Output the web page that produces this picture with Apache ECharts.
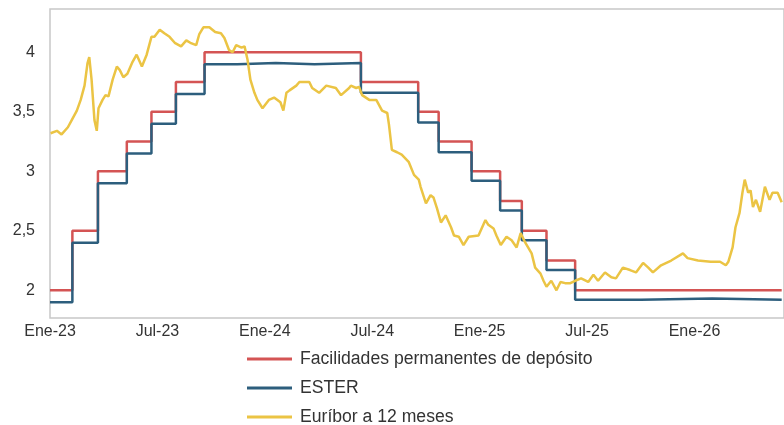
<!DOCTYPE html>
<html>
<head>
<meta charset="utf-8">
<script src="https://cdn.jsdelivr.net/npm/echarts@6/dist/echarts.min.js"></script>
<style>
  html, body { margin: 0; padding: 0; background: #fff; }
  #chart { width: 784px; height: 425px; }
</style>
</head>
<body>
<div id="chart"></div>
<script>
// Series names
const seriesNames = ['Facilidades permanentes de depósito', 'ESTER', 'Euríbor a 12 meses']

// Facilidades de depósito (value holds from each date)
const dfrDates = ['2023-01-01', '2023-02-08', '2023-03-22', '2023-05-10', '2023-06-21', '2023-08-02',
  '2023-09-20', '2024-06-12', '2024-09-18', '2024-10-23', '2024-12-18', '2025-02-05',
  '2025-03-12', '2025-04-23', '2025-06-11', '2026-05-28']
const dfrValues = [2, 2.5, 3, 3.25, 3.5, 3.75, 4, 3.75, 3.5, 3.25, 3, 2.75, 2.5, 2.25, 2, 2]

// ESTER
const esterDates = ['2023-01-01', '2023-02-08', '2023-03-22', '2023-05-10', '2023-06-21', '2023-08-02',
  '2023-09-20', '2023-11-15', '2024-01-20', '2024-03-25', '2024-06-12', '2024-09-18',
  '2024-10-23', '2024-12-18', '2025-02-05', '2025-03-12', '2025-04-23', '2025-06-11',
  '2025-10-01', '2026-02-01', '2026-05-28']
const esterValues = [1.9, 2.4, 2.9, 3.15, 3.4, 3.65, 3.9, 3.91, 3.9, 3.91, 3.66, 3.41,
  3.16, 2.92, 2.67, 2.42, 2.17, 1.92, 1.93, 1.92, 1.92]

// Euríbor a 12 meses
const euriborDates = ['2023-01-02', '2023-01-13', '2023-01-21', '2023-02-01', '2023-02-07', '2023-02-15',
  '2023-02-21', '2023-02-27', '2023-03-04', '2023-03-07', '2023-03-11', '2023-03-16', '2023-03-20',
  '2023-03-23', '2023-03-30', '2023-04-04', '2023-04-09', '2023-04-16', '2023-04-23', '2023-04-28',
  '2023-05-04', '2023-05-11', '2023-05-20', '2023-05-27', '2023-06-05', '2023-06-13', '2023-06-21',
  '2023-06-26', '2023-07-05', '2023-07-13', '2023-07-22', '2023-07-31', '2023-08-11', '2023-08-20',
  '2023-08-27', '2023-09-06', '2023-09-11', '2023-09-18', '2023-09-28', '2023-10-08', '2023-10-18',
  '2023-10-24', '2023-11-01', '2023-11-07', '2023-11-13', '2023-11-22', '2023-11-27', '2023-12-02',
  '2023-12-07', '2023-12-14', '2023-12-19', '2023-12-28', '2024-01-08', '2024-01-17', '2024-01-28',
  '2024-02-02', '2024-02-07', '2024-02-12', '2024-02-23', '2024-02-28', '2024-03-16', '2024-03-21',
  '2024-04-02', '2024-04-14', '2024-04-30', '2024-05-09', '2024-05-23', '2024-05-26', '2024-06-04',
  '2024-06-09', '2024-06-14', '2024-06-26', '2024-07-08', '2024-07-18', '2024-07-27', '2024-07-30',
  '2024-08-04', '2024-08-13', '2024-08-21', '2024-09-02', '2024-09-11', '2024-09-19', '2024-09-22',
  '2024-10-01', '2024-10-09', '2024-10-14', '2024-10-20', '2024-10-27', '2024-11-04', '2024-11-13',
  '2024-11-18', '2024-11-26', '2024-12-04', '2024-12-13', '2024-12-30', '2025-01-11', '2025-01-16',
  '2025-01-25', '2025-01-30', '2025-02-06', '2025-02-15', '2025-02-23', '2025-03-03', '2025-03-10',
  '2025-03-18', '2025-03-29', '2025-04-04', '2025-04-13', '2025-04-18', '2025-04-23', '2025-05-01',
  '2025-05-10', '2025-05-17', '2025-05-25', '2025-06-03', '2025-06-11', '2025-06-21', '2025-07-03',
  '2025-07-12', '2025-07-20', '2025-08-01', '2025-08-12', '2025-08-20', '2025-09-01', '2025-09-13',
  '2025-09-23', '2025-10-05', '2025-10-14', '2025-10-22', '2025-11-05', '2025-11-22', '2025-12-12',
  '2025-12-20', '2026-01-07', '2026-01-29', '2026-02-13', '2026-02-22', '2026-02-26', '2026-03-05',
  '2026-03-10', '2026-03-17', '2026-03-22', '2026-03-26', '2026-04-01', '2026-04-05', '2026-04-09',
  '2026-04-14', '2026-04-21', '2026-04-29', '2026-05-07', '2026-05-12', '2026-05-21', '2026-05-28']
const euriborValues = [3.32, 3.34, 3.31, 3.37, 3.43, 3.51,
  3.6, 3.72, 3.91, 3.96, 3.77, 3.43, 3.34,
  3.53, 3.6, 3.64, 3.63, 3.77, 3.88, 3.85,
  3.79, 3.82, 3.92, 3.98, 3.88, 3.98, 4.13,
  4.13, 4.19, 4.16, 4.13, 4.08, 4.05, 4.1,
  4.08, 4.06, 4.15, 4.21, 4.21, 4.17, 4.16,
  4.12, 4.02, 4.0, 4.06, 4.04, 4.05, 3.94,
  3.77, 3.66, 3.6, 3.53, 3.6, 3.62, 3.58,
  3.51, 3.66, 3.68, 3.72, 3.75, 3.75, 3.7,
  3.66, 3.72, 3.7, 3.64, 3.7, 3.72, 3.7,
  3.71, 3.64, 3.6, 3.6, 3.51, 3.49, 3.39,
  3.18, 3.16, 3.14, 3.08, 2.97, 2.93, 2.87,
  2.73, 2.8, 2.78, 2.69, 2.57, 2.63, 2.53,
  2.46, 2.45, 2.38, 2.45, 2.46, 2.59, 2.55,
  2.52, 2.46, 2.38, 2.45, 2.42, 2.36, 2.48,
  2.4, 2.31, 2.19, 2.14, 2.08, 2.03, 2.08,
  2.0, 2.07, 2.06, 2.06, 2.08, 2.1, 2.07,
  2.13, 2.08, 2.15, 2.11, 2.1, 2.19, 2.17,
  2.15, 2.23, 2.19, 2.15, 2.21, 2.25, 2.31,
  2.27, 2.25, 2.24, 2.24, 2.21, 2.24, 2.36,
  2.53, 2.65, 2.82, 2.93, 2.82, 2.84, 2.7,
  2.76, 2.66, 2.87, 2.76, 2.82, 2.82, 2.74]

// eje X: meses desde enero 2023, etiquetas cada 6 meses
const monthNames = ['Ene', 'Jul']

function toMonths(d) {
  const [y, m, dd] = d.split('-').map(Number)
  const dim = new Date(y, m, 0).getDate()
  return (y - 2023) * 12 + (m - 1) + (dd - 1) / dim
}

function pairs(dates, values) {
  return dates.map((d, i) => [toMonths(d), values[i]])
}

let chart = echarts.init(document.getElementById('chart'))
let font = "'Liberation Sans', Arial, sans-serif"
let option = {
  animation: false,
  color: ['#d45454', '#2d5e7d', '#ebc444'],
  textStyle: { fontFamily: font },
  grid: {
    left: 50,
    top: 9,
    width: 736,
    height: 309,
    show: true,
    borderColor: '#c8c8c8',
    borderWidth: 1.5,
  },
  legend: {
    orient: 'vertical',
    left: 247,
    top: 349,
    height: 100,
    padding: 0,
    itemWidth: 45,
    itemHeight: 3,
    itemGap: 9,
    icon: 'rect',
    data: seriesNames,
    textStyle: {
      fontFamily: font,
      fontSize: 17.6,
      lineHeight: 20,
      color: '#333',
      padding: [0, 0, 0, 3],
    },
  },
  xAxis: {
    type: 'value',
    min: 0,
    max: 41,
    interval: 6,
    axisLine: { show: false },
    axisTick: { show: false },
    splitLine: { show: false },
    axisLabel: {
      margin: 6,
      fontSize: 16,
      color: '#333',
      fontFamily: font,
      showMaxLabel: false,
      formatter: function (v) {
        if (v % 6 !== 0) return ''
        return monthNames[(v % 12) / 6] + '-' + (23 + Math.floor(v / 12))
      },
    },
  },
  yAxis: {
    type: 'value',
    min: 1.767,
    max: 4.364,
    axisLine: { show: false },
    axisTick: { show: false },
    splitLine: { show: false },
    axisLabel: {
      margin: 15,
      fontSize: 16,
      color: '#333',
      fontFamily: font,
      formatter: function (v) {
        if (Math.abs(v * 2 - Math.round(v * 2)) > 1e-6) return ''
        return String(Math.round(v * 2) / 2).replace('.', ',')
      },
    },
  },
  series: [
    {
      name: seriesNames[0],
      type: 'line',
      step: 'end',
      symbol: 'none',
      lineStyle: { width: 2.5 },
      data: pairs(dfrDates, dfrValues),
    },
    {
      name: seriesNames[1],
      type: 'line',
      step: 'end',
      symbol: 'none',
      lineStyle: { width: 2.5 },
      data: pairs(esterDates, esterValues),
    },
    {
      name: seriesNames[2],
      type: 'line',
      symbol: 'none',
      lineStyle: { width: 2.5 },
      data: pairs(euriborDates, euriborValues),
    },
  ],
}
chart.setOption(option)
</script>
</body>
</html>
